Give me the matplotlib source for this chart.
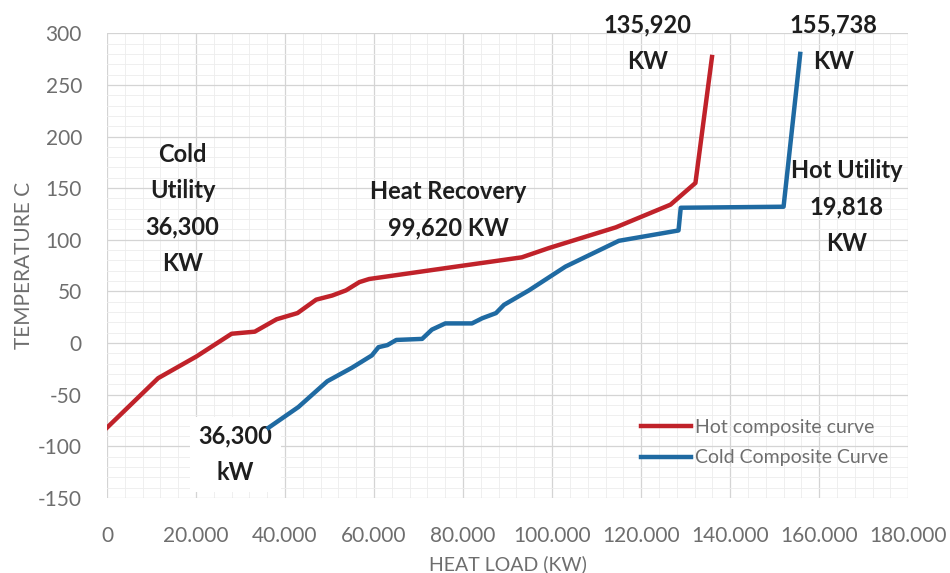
import matplotlib.pyplot as plt
from matplotlib.ticker import MultipleLocator, AutoMinorLocator, FuncFormatter

# hot composite curve (heat load kW, temperature C)
hot_load = [0, 11500, 20100, 28000, 33200, 38100, 42800, 47000, 50600, 53700,
            56700, 58900, 76800, 93200, 99300, 114300, 126600, 132200, 135920]
hot_temp = [-82, -34, -13, 9, 11, 23, 29, 42, 46, 51,
            59, 62, 73, 83, 92, 112, 134, 155, 277]

# cold composite curve
cold_load = [36300, 43000, 49500, 55000, 59500, 61000, 63000, 65000, 70800, 73000,
             76000, 82000, 84300, 87400, 89200, 94800, 103000, 115000, 128400, 128900,
             152000, 155738]
cold_temp = [-82, -62, -37, -24, -12, -4, -2, 3, 4, 13,
             19, 19, 24, 29, 37, 51, 74, 99, 109, 131,
             132, 280]

plt.rcParams['font.family'] = ['Lato', 'DejaVu Sans']
plt.rcParams['axes.unicode_minus'] = False

fig = plt.figure(figsize=(9.5, 5.73), dpi=100)
ax = fig.add_axes([0.1126, 0.131, 0.8434, 0.811])

ax.plot(hot_load, hot_temp, color='#c0222a', lw=3.2, label='Hot composite curve',
        solid_joinstyle='round', zorder=3)
ax.plot(cold_load, cold_temp, color='#1f6aa2', lw=3.2, label='Cold Composite Curve',
        solid_joinstyle='round', zorder=3)

ax.set_xlim(0, 180000)
ax.set_ylim(-150, 300)
ax.xaxis.set_major_locator(MultipleLocator(20000))
ax.yaxis.set_major_locator(MultipleLocator(50))
ax.xaxis.set_minor_locator(AutoMinorLocator(5))
ax.yaxis.set_minor_locator(AutoMinorLocator(5))
ax.xaxis.set_major_formatter(FuncFormatter(lambda v, p: '0' if v == 0 else f'{v/1000:.3f}'))

ax.grid(which='major', color='#d4d4d4', lw=0.9)
ax.grid(which='minor', color='#ededed', lw=0.6)
ax.set_axisbelow(True)
for s in ax.spines.values():
    s.set_visible(False)
ax.tick_params(which='both', length=0)
ax.tick_params(axis='both', labelsize=15, labelcolor='#6e6e6e')
ax.tick_params(axis='y', pad=18)
ax.tick_params(axis='x', pad=20)

ax.set_ylabel('TEMPERATURE C', fontsize=15, color='#6e6e6e', labelpad=3)
ax.set_xlabel('HEAT LOAD (KW)', fontsize=14, color='#6e6e6e', labelpad=7)

kw = dict(fontsize=17, fontweight='bold', color='#1e1e1e', ha='center', va='center',
          linespacing=1.7)
ax.text(17000, 130, 'Cold\nUtility\n36,300\nKW', **kw)
ax.text(76700, 129, 'Heat Recovery\n99,620 KW', **kw)
ax.text(121500, 290, '135,920\nKW', **kw)
ax.text(163300, 290, '155,738\nKW', **kw)
ax.text(166200, 132, 'Hot Utility\n19,818\nKW', **kw)
ax.text(28900, -108, '36,300\nkW', zorder=2.5,
        bbox=dict(facecolor='white', edgecolor='none', pad=6), **kw)

ax.legend(loc='lower right', bbox_to_anchor=(0.997, 0.03), frameon=False, fontsize=14,
          handlelength=2.6, handletextpad=0.2, labelspacing=0.7,
          labelcolor='#6e6e6e')

fig.savefig('out.png', dpi=100)
